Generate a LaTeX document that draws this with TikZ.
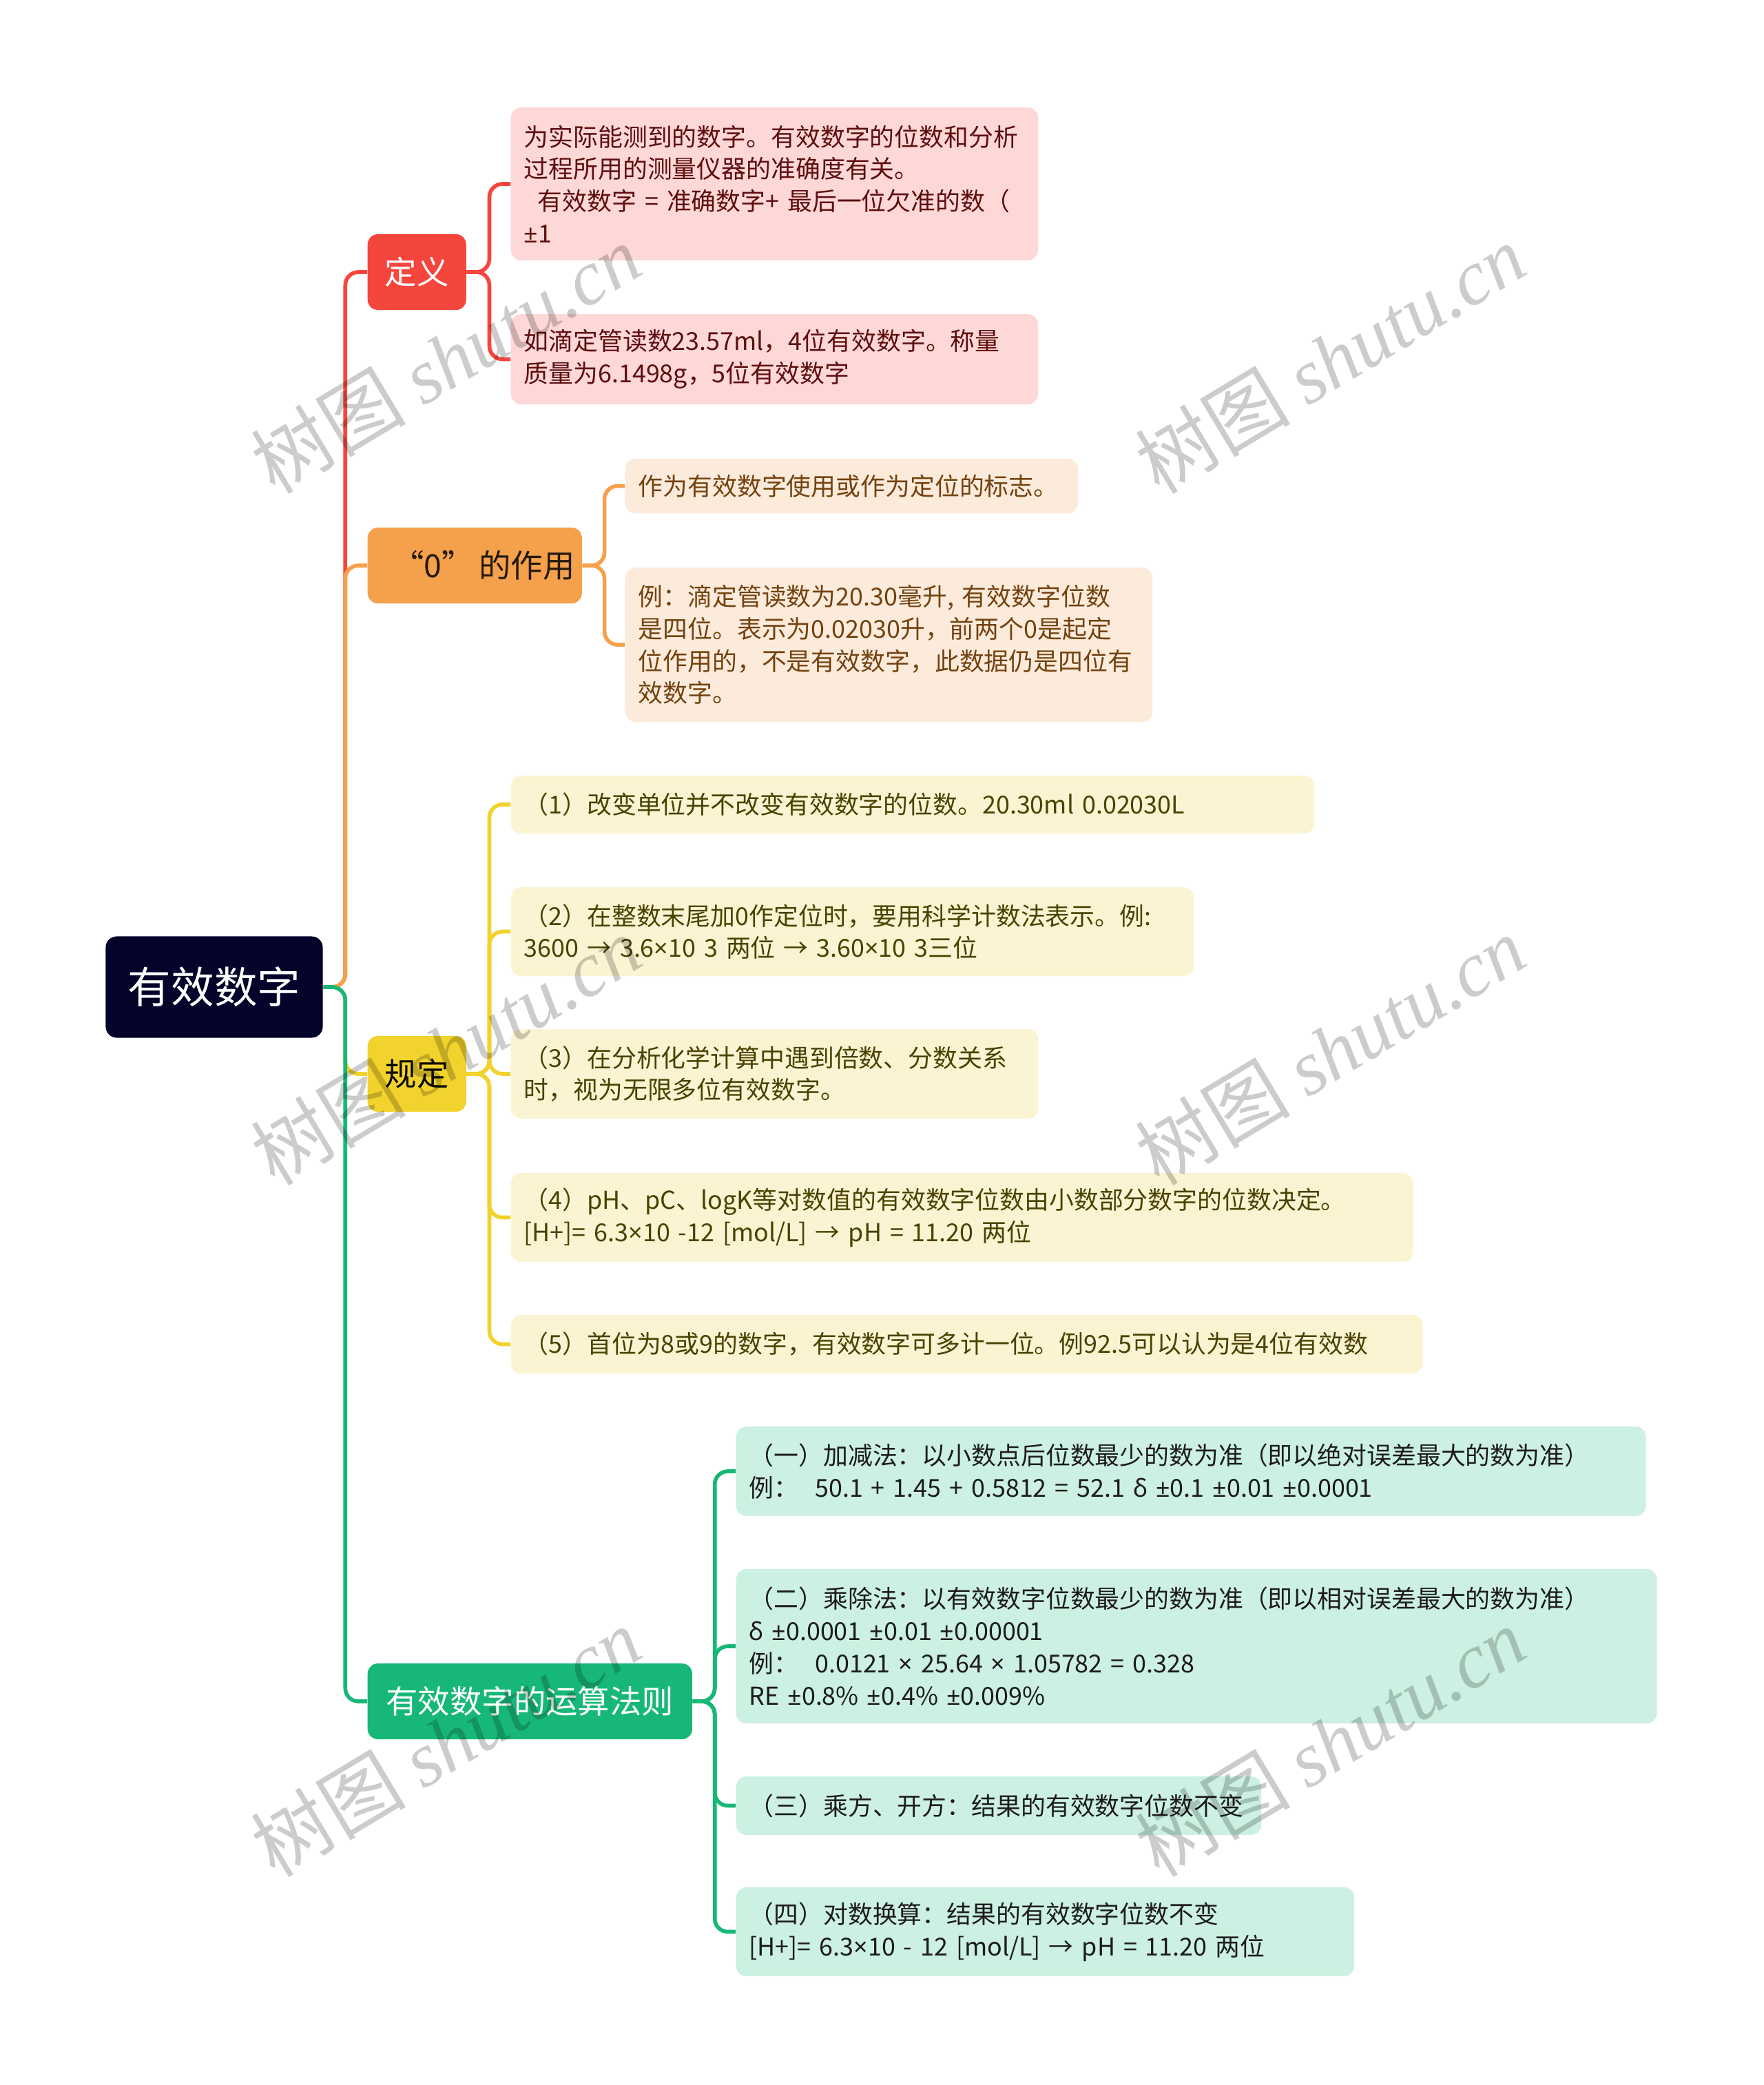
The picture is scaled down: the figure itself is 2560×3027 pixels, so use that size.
\documentclass[tikz,border=0pt]{standalone}
\usepackage{fontspec}
\setmainfont{Noto Sans CJK SC}
\newfontfamily\wmfont{Liberation Serif}
\newfontfamily\narrowfont{Noto Sans}
\newcommand\pmx{{\narrowfont ±}}
\newcommand\tmx{{\narrowfont ×}}
\newcommand\dlx{{\narrowfont δ}}

\definecolor{rootfill}{HTML}{04042A}
\definecolor{defmain}{HTML}{F4463C}
\definecolor{defsoft}{HTML}{FDD8D6}
\definecolor{deftext}{HTML}{5E0E0E}
\definecolor{zeromain}{HTML}{F5A14C}
\definecolor{zerosoft}{HTML}{FCEBDB}
\definecolor{zerotext}{HTML}{73420F}
\definecolor{rulemain}{HTML}{F2D22C}
\definecolor{rulesoft}{HTML}{FBF4D2}
\definecolor{ruletext}{HTML}{4A4200}
\definecolor{calcmain}{HTML}{17B877}
\definecolor{calcsoft}{HTML}{CCF0E1}
\definecolor{calctext}{HTML}{1C1C1C}

\begin{document}
\begin{tikzpicture}[
        x=0.01cm, y=-0.01cm,
        topic/.style={
            rounded corners=0.15cm,
            inner sep=0pt,
            minimum height=1.10cm,
            anchor=west,
            font=\fontsize{13.2}{16}\selectfont
        },
        leaf/.style={
            rounded corners=0.15cm,
            inner xsep=0.19cm,
            inner ysep=0pt,
            anchor=west,
            align=left,
            font=\fontsize{10.2}{13.3}\selectfont
        },
        link/.style={line width=1.6pt, rounded corners=0.19cm},
        mark wm/.style={rotate=31, text=black, text opacity=0.2, font=\fontsize{32}{36}\selectfont}
    ]
        \useasboundingbox (0,0) rectangle (2560,3027);

        \node[fill=rootfill, text=white, rounded corners=0.16cm, minimum width=3.15cm,
              minimum height=1.47cm, font=\fontsize{17.8}{20}\selectfont] (root) at (311,1433) {有效数字};

        % first level
        \node[topic, fill=defmain, text=white, minimum width=1.43cm] (def) at (533,395) {定义};
        \node[topic, fill=zeromain, text=black!80!brown, minimum width=3.11cm] (zero) at (533,821) {\hspace{0.25cm}“0”\,的作用};
        \node[topic, fill=rulemain, text=black!85!ruletext, minimum width=1.43cm] (rule) at (533,1559) {规定};
        \node[topic, fill=calcmain, text=white, minimum width=4.71cm] (calc) at (533,2470) {有效数字的运算法则};

        % definition
        \node[leaf, fill=defsoft, text=deftext, text width=7.27cm, minimum height=2.22cm] (defA) at (741,267)
            {为实际能测到的数字。有效数字的位数和分析\\过程所用的测量仪器的准确度有关。\\\hspace{0.2cm}有效数字 = 准确数字+ 最后一位欠准的数（\\\pmx1};
        \node[leaf, fill=defsoft, text=deftext, text width=7.27cm, minimum height=1.31cm] (defB) at (741,521.5)
            {如滴定管读数23.57ml，4位有效数字。称量\\质量为6.1498g，5位有效数字};

        % role of zero
        \node[leaf, fill=zerosoft, text=zerotext, text width=6.19cm, minimum height=0.79cm] (zeroA) at (907,705.5)
            {作为有效数字使用或作为定位的标志。};
        \node[leaf, fill=zerosoft, text=zerotext, text width=7.27cm, minimum height=2.24cm] (zeroB) at (907,936)
            {例：滴定管读数为20.30毫升, 有效数字位数\\是四位。表示为0.02030升，前两个0是起定\\位作用的，不是有效数字，此数据仍是四位有\\效数字。};

        % rules
        \node[leaf, fill=rulesoft, text=ruletext, text width=11.28cm, minimum height=0.84cm] (ruleA) at (741,1168)
            {（1）改变单位并不改变有效数字的位数。20.30ml 0.02030L};
        \node[leaf, fill=rulesoft, text=ruletext, text width=9.53cm, minimum height=1.29cm] (ruleB) at (741,1352.5)
            {（2）在整数末尾加0作定位时，要用科学计数法表示。例:\\3600 → 3.6\tmx10 3 两位 → 3.60\tmx10 3三位};
        \node[leaf, fill=rulesoft, text=ruletext, text width=7.27cm, minimum height=1.30cm] (ruleC) at (741,1559)
            {（3）在分析化学计算中遇到倍数、分数关系\\时，视为无限多位有效数字。};
        \node[leaf, fill=rulesoft, text=ruletext, text width=12.71cm, minimum height=1.29cm] (ruleD) at (741,1767.5)
            {（4）pH、pC、logK等对数值的有效数字位数由小数部分数字的位数决定。\\{[H+]}= 6.3\tmx10 -12 [mol/L] → pH = 11.20 两位};
        \node[leaf, fill=rulesoft, text=ruletext, text width=12.85cm, minimum height=0.85cm] (ruleE) at (741,1951.5)
            {（5）首位为8或9的数字，有效数字可多计一位。例92.5可以认为是4位有效数};

        % calculation rules
        \node[leaf, fill=calcsoft, text=calctext, text width=12.82cm, minimum height=1.30cm] (calcA) at (1068,2136)
            {（一）加减法：以小数点后位数最少的数为准（即以绝对误差最大的数为准）\\例：\ \ 50.1 + 1.45 + 0.5812 = 52.1 \dlx{} \pmx0.1 \pmx0.01 \pmx0.0001};
        \node[leaf, fill=calcsoft, text=calctext, text width=12.98cm, minimum height=2.24cm] (calcB) at (1068,2390)
            {（二）乘除法：以有效数字位数最少的数为准（即以相对误差最大的数为准）\\\dlx{} \pmx0.0001 \pmx0.01 \pmx0.00001\\例：\ \ 0.0121 \tmx{} 25.64 \tmx{} 1.05782 = 0.328\\RE \pmx0.8\% \pmx0.4\% \pmx0.009\%};
        \node[leaf, fill=calcsoft, text=calctext, text width=7.24cm, minimum height=0.85cm] (calcC) at (1068,2621.5)
            {（三）乘方、开方：结果的有效数字位数不变};
        \node[leaf, fill=calcsoft, text=calctext, text width=8.59cm, minimum height=1.29cm] (calcD) at (1068,2804.5)
            {（四）对数换算：结果的有效数字位数不变\\{[H+]}= 6.3\tmx10 - 12 [mol/L] → pH = 11.20 两位};

        % branches from the root
        \draw[link, draw=defmain] (root.east) -- ++(32,0) |- (def.west);
        \draw[link, draw=zeromain] (root.east) -- ++(32,0) |- (zero.west);
        \draw[link, draw=rulemain] (root.east) -- ++(32,0) |- (rule.west);
        \draw[link, draw=calcmain] (root.east) -- ++(32,0) |- (calc.west);

        % branches to the leaves
        \draw[link, draw=defmain] (def.east) -- ++(33,0) |- (defA.west);
        \draw[link, draw=defmain] (def.east) -- ++(33,0) |- (defB.west);
        \draw[link, draw=zeromain] (zero.east) -- ++(32,0) |- (zeroA.west);
        \draw[link, draw=zeromain] (zero.east) -- ++(32,0) |- (zeroB.west);
        \draw[link, draw=rulemain] (rule.east) -- ++(33,0) |- (ruleA.west);
        \draw[link, draw=rulemain] (rule.east) -- ++(33,0) |- (ruleB.west);
        \draw[link, draw=rulemain] (rule.east) -- ++(33,0) |- (ruleC.west);
        \draw[link, draw=rulemain] (rule.east) -- ++(33,0) |- (ruleD.west);
        \draw[link, draw=rulemain] (rule.east) -- ++(33,0) |- (ruleE.west);
        \draw[link, draw=calcmain] (calc.east) -- ++(32,0) |- (calcA.west);
        \draw[link, draw=calcmain] (calc.east) -- ++(32,0) |- (calcB.west);
        \draw[link, draw=calcmain] (calc.east) -- ++(32,0) |- (calcC.west);
        \draw[link, draw=calcmain] (calc.east) -- ++(32,0) |- (calcD.west);

        % watermarks
        \node[mark wm] (wmA) at (647,521) {树图 {\wmfont\itshape shutu.cn}};
        \node[mark wm] (wmB) at (1931,521) {树图 {\wmfont\itshape shutu.cn}};
        \node[mark wm] (wmC) at (647,1525) {树图 {\wmfont\itshape shutu.cn}};
        \node[mark wm] (wmD) at (1931,1525) {树图 {\wmfont\itshape shutu.cn}};
        \node[mark wm] (wmE) at (647,2529) {树图 {\wmfont\itshape shutu.cn}};
        \node[mark wm] (wmF) at (1931,2529) {树图 {\wmfont\itshape shutu.cn}};
    \end{tikzpicture}
\end{document}
